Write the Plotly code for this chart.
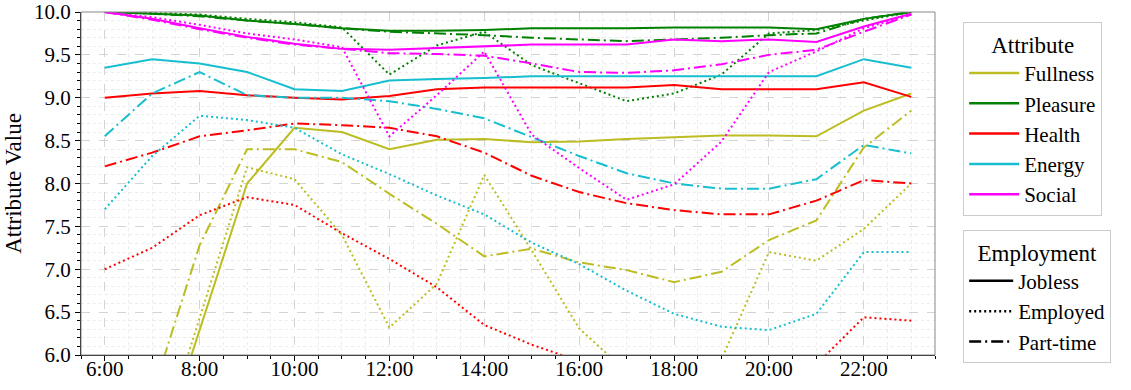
import plotly.graph_objects as go

# ---- data ----
hours = list(range(6, 24))  # 6:00 .. 23:00

attributes = ["Fullness", "Pleasure", "Health", "Energy", "Social"]
employment = ["Jobless", "Employed", "Part-time"]

fullness_jobless = [3.5, 4.6, 6.29, 8.0, 8.65, 8.6, 8.4, 8.51, 8.52, 8.48, 8.49, 8.52, 8.54, 8.56, 8.56, 8.55, 8.85, 9.05]
fullness_employed = [4.0, 4.68, 6.43, 8.19, 8.05, 7.4, 6.32, 6.83, 8.1, 7.22, 6.31, 5.8, 5.3, 5.95, 7.2, 7.1, 7.47, 8.0]
fullness_parttime = [4.9, 5.54, 7.28, 8.4, 8.4, 8.25, 7.88, 7.53, 7.15, 7.24, 7.08, 6.99, 6.85, 6.97, 7.34, 7.57, 8.42, 8.85]

pleasure_jobless = [10.0, 9.98, 9.96, 9.9, 9.86, 9.81, 9.78, 9.78, 9.79, 9.81, 9.81, 9.81, 9.82, 9.82, 9.82, 9.8, 9.92, 10.0]
pleasure_employed = [10.0, 9.99, 9.97, 9.92, 9.88, 9.82, 9.27, 9.61, 9.77, 9.38, 9.17, 8.96, 9.05, 9.27, 9.75, 9.79, 9.9, 10.0]
pleasure_parttime = [10.0, 9.98, 9.95, 9.9, 9.86, 9.81, 9.77, 9.75, 9.73, 9.7, 9.68, 9.66, 9.68, 9.7, 9.73, 9.75, 9.92, 10.0]

health_jobless = [9.0, 9.05, 9.08, 9.03, 9.0, 8.98, 9.02, 9.1, 9.12, 9.12, 9.12, 9.12, 9.15, 9.1, 9.1, 9.1, 9.18, 9.01]
health_employed = [7.0, 7.25, 7.63, 7.84, 7.75, 7.42, 7.12, 6.79, 6.35, 6.12, 5.93, 5.8, 5.7, 5.65, 5.7, 5.89, 6.44, 6.4]
health_parttime = [8.2, 8.36, 8.55, 8.62, 8.7, 8.68, 8.65, 8.55, 8.36, 8.09, 7.9, 7.77, 7.69, 7.64, 7.64, 7.8, 8.04, 8.0]

energy_jobless = [9.35, 9.45, 9.4, 9.3, 9.1, 9.08, 9.2, 9.22, 9.23, 9.25, 9.25, 9.25, 9.25, 9.25, 9.25, 9.25, 9.45, 9.35]
energy_employed = [7.7, 8.32, 8.79, 8.74, 8.65, 8.34, 8.11, 7.86, 7.64, 7.31, 7.06, 6.75, 6.48, 6.33, 6.29, 6.48, 7.2, 7.2]
energy_parttime = [8.55, 9.05, 9.3, 9.03, 9.0, 9.0, 8.96, 8.87, 8.76, 8.54, 8.32, 8.12, 8.0, 7.94, 7.94, 8.05, 8.45, 8.35]

social_jobless = [10.0, 9.92, 9.81, 9.71, 9.63, 9.57, 9.56, 9.58, 9.6, 9.62, 9.62, 9.62, 9.68, 9.66, 9.68, 9.65, 9.83, 9.98]
social_employed = [10.0, 9.94, 9.85, 9.75, 9.68, 9.59, 8.55, 9.03, 9.54, 8.57, 8.18, 7.81, 7.99, 8.49, 9.3, 9.54, 9.81, 9.97]
social_parttime = [10.0, 9.91, 9.8, 9.7, 9.62, 9.57, 9.52, 9.51, 9.49, 9.4, 9.3, 9.29, 9.32, 9.39, 9.5, 9.56, 9.77, 9.97]

series = {
    "Fullness": [fullness_jobless, fullness_employed, fullness_parttime],
    "Pleasure": [pleasure_jobless, pleasure_employed, pleasure_parttime],
    "Health": [health_jobless, health_employed, health_parttime],
    "Energy": [energy_jobless, energy_employed, energy_parttime],
    "Social": [social_jobless, social_employed, social_parttime],
}

colors = {"Fullness": "#bcbd22", "Pleasure": "#008000", "Health": "#ff0000",
          "Energy": "#17becf", "Social": "#ff00ff"}
dashes = {"Jobless": "solid", "Employed": "2px,3px", "Part-time": "12px,4px,2px,4px"}

FONT = "Liberation Serif"

fig = go.Figure()

for attr in attributes:
    for emp, vals in zip(employment, series[attr]):
        fig.add_trace(go.Scatter(
            x=hours, y=vals, mode="lines",
            line=dict(color=colors[attr], width=2, dash=dashes[emp]),
            showlegend=False, hoverinfo="skip"))

# legend entries
for attr in attributes:
    fig.add_trace(go.Scatter(
        x=[None], y=[None], mode="lines", name=attr,
        line=dict(color=colors[attr], width=2.5),
        legend="legend", showlegend=True))
for emp in employment:
    fig.add_trace(go.Scatter(
        x=[None], y=[None], mode="lines", name=emp,
        line=dict(color="black", width=2.5, dash=dashes[emp]),
        legend="legend2", showlegend=True))

grid_major = "#d4d4d4"
grid_minor = "#ececec"

fig.update_layout(
    width=1131, height=390,
    margin=dict(l=81, r=196, t=12, b=35, autoexpand=False),
    plot_bgcolor="white", paper_bgcolor="white",
    font=dict(family=FONT, size=21, color="black"),
    xaxis=dict(
        range=[5.5, 23.5], tickmode="linear", tick0=6, dtick=2, ticksuffix=":00",
        ticks="outside", ticklen=5, tickcolor="black", automargin=False,
        ticklabelstandoff=-10,
        showline=True, linecolor="black", linewidth=1,
        showgrid=True, gridcolor=grid_major, griddash="dash", gridwidth=1,
        zeroline=False, ticklabeloverflow="allow",
        minor=dict(dtick=0.5, ticks="outside", ticklen=3, tickcolor="black",
                   showgrid=True, gridcolor=grid_minor, griddash="dot"),
        tickfont=dict(size=21, family=FONT),
    ),
    yaxis=dict(
        range=[6, 10], tickmode="linear", tick0=6, dtick=0.5, tickformat=".1f",
        ticks="outside", ticklen=5, tickcolor="black", automargin=False,
        showline=True, linecolor="black", linewidth=1,
        showgrid=True, gridcolor=grid_major, griddash="dash", gridwidth=1,
        zeroline=False, ticklabeloverflow="allow",
        minor=dict(dtick=0.1, ticks="outside", ticklen=3, tickcolor="black",
                   showgrid=True, gridcolor=grid_minor, griddash="dot"),
        title=dict(text="Attribute Value", font=dict(size=23, family=FONT), standoff=5),
        tickfont=dict(size=21, family=FONT),
    ),
    legend=dict(
        title=dict(text="Attribute", side="top center", font=dict(size=23, family=FONT)),
        x=1.033, xanchor="left", y=0.971, yanchor="top",
        bordercolor="#cccccc", borderwidth=1, bgcolor="white",
        font=dict(size=21, family=FONT), tracegroupgap=0, itemwidth=50,
    ),
    legend2=dict(
        title=dict(text="Employment", side="top center", font=dict(size=23, family=FONT)),
        x=1.033, xanchor="left", y=0.365, yanchor="top",
        bordercolor="#cccccc", borderwidth=1, bgcolor="white",
        font=dict(size=21, family=FONT), tracegroupgap=0, itemwidth=44,
    ),
    shapes=[dict(type="rect", xref="paper", yref="paper", x0=0, x1=1, y0=0, y1=1,
                 line=dict(color="#888888", width=1), layer="above")],
)

fig.write_html("out.html", config={"displayModeBar": False},
               post_script="document.body.style.margin='0';")
